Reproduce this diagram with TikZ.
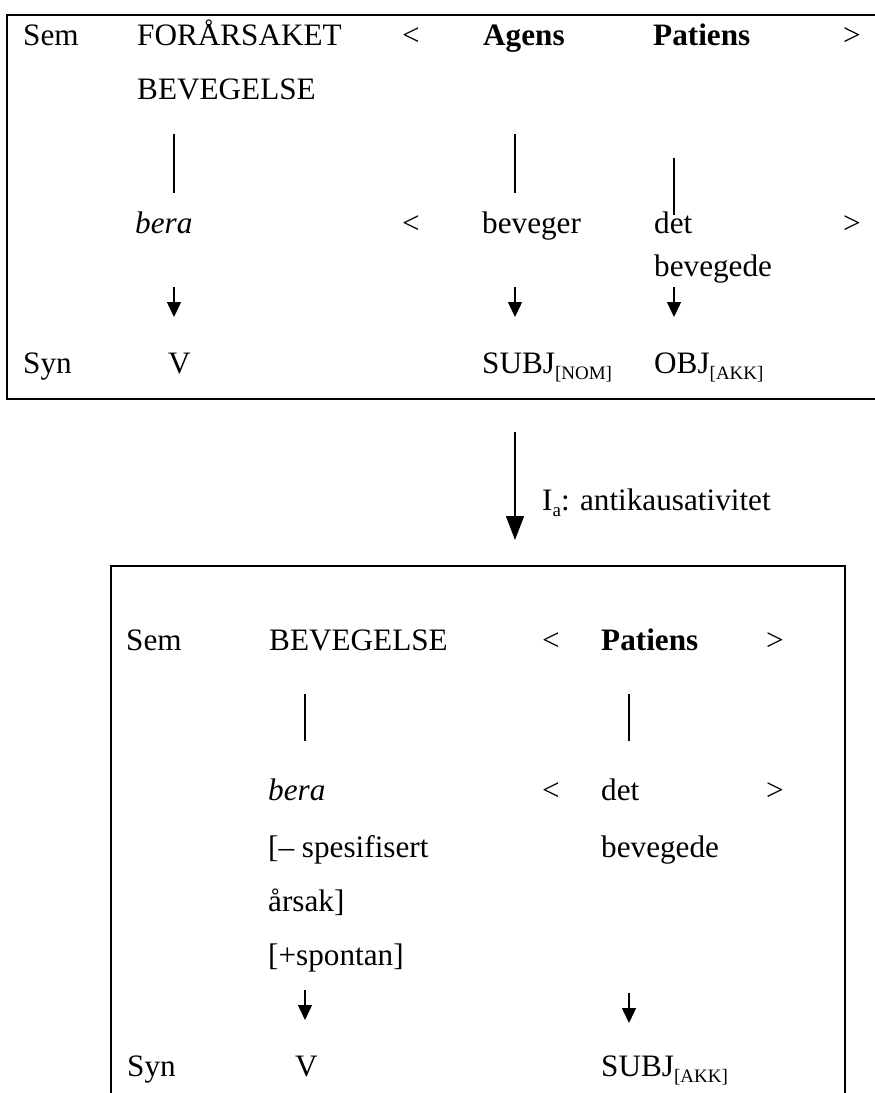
\documentclass[tikz,border=0pt]{standalone}
\usepackage{fontspec}
\setmainfont{Liberation Serif}
\usepackage{tikz}
\usetikzlibrary{arrows.meta}

\newcommand{\subidx}[1]{\raisebox{-6.5pt}{\fontsize{19}{19}\selectfont #1}}

\begin{document}
\begin{tikzpicture}[x=1pt,y=-1pt,
    txt/.style={anchor=base west,inner sep=0pt,font=\fontsize{31.2}{36}\selectfont},
    boxline/.style={line width=2.2pt},
    bar/.style={line width=1.2pt},
    down/.style={line width=1.4pt,-{Triangle[length=15pt,width=14pt]}},
    bigdown/.style={line width=1.4pt,-{Triangle[length=24pt,width=18pt]}}]
    \useasboundingbox (0,0) rectangle (875,1093) ;

    % upper box
    \draw[boxline] (885,15) -- (7,15) -- (7,399) -- (885,399) ;
    \node[txt] (sem1) at (23,45) {Sem} ;
    \node[txt] (forarsaket) at (137,45) {FORÅRSAKET} ;
    \node[txt] (lt1) at (402,45) {<} ;
    \node[txt] (agens) at (483,45) {\textbf{Agens}} ;
    \node[txt] (patiens1) at (653,45) {\textbf{Patiens}} ;
    \node[txt] (gt1) at (843,45) {>} ;
    \node[txt] (bevegelse1) at (137,99) {BEVEGELSE} ;

    \node[txt] (bera1) at (135,233) {\textit{bera}} ;
    \node[txt] (lt2) at (402,233) {<} ;
    \node[txt] (beveger) at (482,233) {beveger} ;
    \node[txt] (det1) at (654,233) {det} ;
    \node[txt] (gt2) at (843,233) {>} ;
    \node[txt] (bevegede1) at (654,276) {bevegede} ;

    \node[txt] (syn1) at (23,373) {Syn} ;
    \node[txt] (v1) at (168,373) {V} ;
    \node[txt] (subj1) at (482,373) {SUBJ\subidx{[NOM]}} ;
    \node[txt] (obj1) at (654,373) {OBJ\subidx{[AKK]}} ;

    \coordinate (b1a) at (174,134) ; \coordinate (b1b) at (174,193) ;
    \coordinate (b2a) at (515,134) ; \coordinate (b2b) at (515,193) ;
    \coordinate (b3a) at (674,158) ; \coordinate (b3b) at (674,215) ;
    \draw[bar] (b1a) -- (b1b) ;
    \draw[bar] (b2a) -- (b2b) ;
    \draw[bar] (b3a) -- (b3b) ;

    \coordinate (a1a) at (174,287) ; \coordinate (a1b) at (174,317) ;
    \coordinate (a2a) at (515,287) ; \coordinate (a2b) at (515,317) ;
    \coordinate (a3a) at (674,287) ; \coordinate (a3b) at (674,317) ;
    \draw[down] (a1a) -- (a1b) ;
    \draw[down] (a2a) -- (a2b) ;
    \draw[down] (a3a) -- (a3b) ;

    % rule between the boxes
    \coordinate (ruleTop) at (515,432) ; \coordinate (ruleEnd) at (515,540) ;
    \draw[bigdown] (ruleTop) -- (ruleEnd) ;
    \node[txt] (rulename) at (542,510) {I\subidx{a}: antikausativitet} ;

    % lower box
    \draw[boxline] (111,1100) -- (111,566) -- (845,566) -- (845,1100) ;
    \node[txt] (sem2) at (126,650) {Sem} ;
    \node[txt] (bevegelse2) at (269,650) {BEVEGELSE} ;
    \node[txt] (lt3) at (542,650) {<} ;
    \node[txt] (patiens2) at (601,650) {\textbf{Patiens}} ;
    \node[txt] (gt3) at (766,650) {>} ;

    \node[txt] (bera2) at (268,800) {\textit{bera}} ;
    \node[txt] (lt4) at (542,800) {<} ;
    \node[txt] (det2) at (601,800) {det} ;
    \node[txt] (gt4) at (766,800) {>} ;
    \node[txt] (spesifisert) at (268,857) {[– spesifisert} ;
    \node[txt] (bevegede2) at (601,857) {bevegede} ;
    \node[txt] (arsak) at (268,911) {årsak]} ;
    \node[txt] (spontan) at (268,965) {[+spontan]} ;

    \node[txt] (syn2) at (127,1076) {Syn} ;
    \node[txt] (v2) at (295,1076) {V} ;
    \node[txt] (subj2) at (601,1076) {SUBJ\subidx{[AKK]}} ;

    \coordinate (b4a) at (305,694) ; \coordinate (b4b) at (305,741) ;
    \coordinate (b5a) at (629,694) ; \coordinate (b5b) at (629,741) ;
    \draw[bar] (b4a) -- (b4b) ;
    \draw[bar] (b5a) -- (b5b) ;

    \coordinate (a4a) at (305,990) ; \coordinate (a4b) at (305,1020) ;
    \coordinate (a5a) at (629,993) ; \coordinate (a5b) at (629,1023) ;
    \draw[down] (a4a) -- (a4b) ;
    \draw[down] (a5a) -- (a5b) ;
\end{tikzpicture}
\end{document}
